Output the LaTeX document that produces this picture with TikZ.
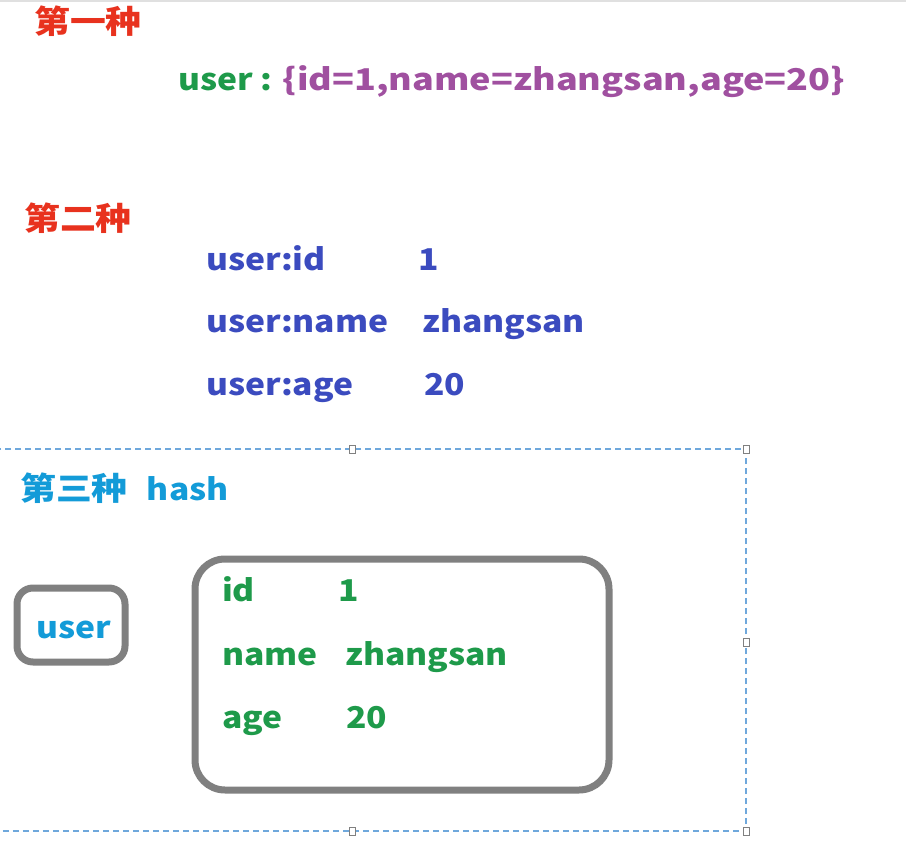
\documentclass[tikz,border=0pt]{standalone}
\usepackage{fontspec}
\setmainfont{Noto Sans CJK SC}[FakeStretch=1.12]
\newfontfamily\widefont{Noto Sans CJK SC}[FakeStretch=1.2]
\definecolor{cred}{HTML}{E8321E}
\definecolor{cgreen}{HTML}{1E9A4A}
\definecolor{cpurple}{HTML}{A050A0}
\definecolor{cblue}{HTML}{3B4BBF}
\definecolor{ccyan}{HTML}{139BD8}
\definecolor{cgray}{HTML}{808080}
\definecolor{cframe}{HTML}{6FA8DC}
\tikzset{
  txt/.style={anchor=base west, inner sep=0pt, font=\bfseries\fontsize{30}{34}\selectfont},
  head/.style={anchor=west, inner sep=0pt, font=\bfseries\fontsize{32}{36}\selectfont},
  rbox/.style={draw=cgray, line width=7pt},
  handle/.style={draw=cgray, fill=white, line width=1pt, minimum width=6pt, minimum height=8pt, inner sep=0pt},
}
\begin{document}
\begin{tikzpicture}[x=1pt, y=-1pt]
\useasboundingbox (0,0) rectangle (906,846);
\fill[white] (0,0) rectangle (906,846);
\coordinate (tl) at (0,1);
\coordinate (tr) at (906,1);
\draw[black!12, line width=2pt] (tl) -- (tr);
% first
\node[head, text=cred] (h1) at (34,21) {第一种};
\node[txt, text=cgreen] (u1) at (178,90) {user :};
\node[txt, text=cpurple, anchor=base west, font=\widefont\bfseries\fontsize{30}{34}\selectfont] (v1) at ([xshift=10pt]u1.base east) {\{id=1,name=zhangsan,age=20\}};
% second
\node[head, text=cred] (h2) at (24,218) {第二种};
\node[txt, text=cblue] (k1) at (206,270) {user:id};
\node[txt, text=cblue] (w1) at (418,270) {1};
\node[txt, text=cblue] (k2) at (206,332) {user:name};
\node[txt, text=cblue] (w2) at (422,332) {zhangsan};
\node[txt, text=cblue] (k3) at (206,395) {user:age};
\node[txt, text=cblue] (w3) at (424,395) {20};
% third
\coordinate (ftl) at (-5,449);
\coordinate (fbr) at (746,831);
\draw[cframe, line width=1.3pt, dash pattern=on 6pt off 4pt] (ftl) rectangle (fbr);
\node[handle] (hd1) at (352,449) {};
\node[handle] (hd2) at (746,449) {};
\node[handle] (hd3) at (746,642) {};
\node[handle] (hd4) at (352,831) {};
\node[handle] (hd5) at (746,831) {};
\node[head, text=ccyan] (h3) at (20,488) {第三种\hspace{0.6em}\fontsize{30}{34}\selectfont hash};
\draw[rbox, rounded corners=16pt] (17,588) rectangle (125,662);
\node[txt, text=ccyan, anchor=base] (usr) at (74,638) {user};
\draw[rbox, rounded corners=30pt] (195,559) rectangle (609,790);
\node[txt, text=cgreen] (f1) at (222,601) {id};
\node[txt, text=cgreen] (g1) at (338,601) {1};
\node[txt, text=cgreen] (f2) at (222,665) {name};
\node[txt, text=cgreen] (g2) at (345,665) {zhangsan};
\node[txt, text=cgreen] (f3) at (222,728) {age};
\node[txt, text=cgreen] (g3) at (346,728) {20};
\end{tikzpicture}
\end{document}
